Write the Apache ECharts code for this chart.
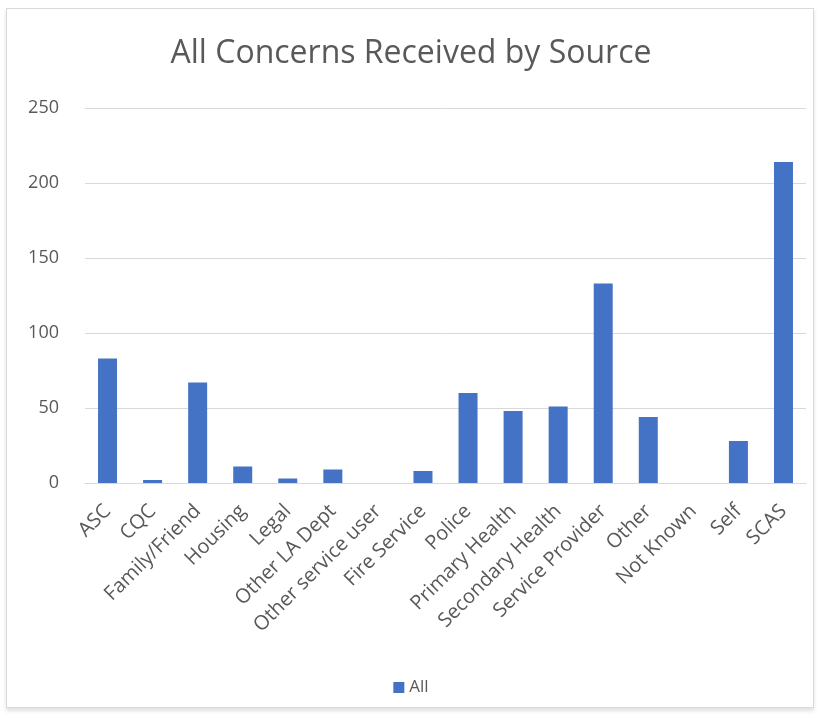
<!DOCTYPE html>
<html>
<head>
<meta charset="utf-8">
<script src="https://cdn.jsdelivr.net/npm/echarts@6/dist/echarts.min.js"></script>
<style>
  html, body { margin: 0; padding: 0; background: #ffffff; }
  #frame {
    position: absolute; left: 6px; top: 8px; width: 808px; height: 700px;
    border: 1px solid #d9d9d9; box-sizing: border-box;
    box-shadow: 0 3px 4px rgba(0,0,0,0.12);
  }
  #chart { position: absolute; left: 0; top: 0; width: 822px; height: 718px; }
</style>
</head>
<body>
<div id="frame"></div>
<div id="chart"></div>
<script>
// Concern sources and counts
const sources = ['ASC', 'CQC', 'Family/Friend', 'Housing', 'Legal', 'Other LA Dept',
  'Other service user', 'Fire Service', 'Police', 'Primary Health', 'Secondary Health',
  'Service Provider', 'Other', 'Not Known', 'Self', 'SCAS'];
const allCounts = [83, 2, 67, 11, 3, 9, 0, 8, 60, 48, 51, 133, 44, 0, 28, 214];
const yTicks = { min: 0, max: 250, interval: 50 };

const textColor = '#595959';
const font = 'Open Sans, Noto Sans, sans-serif';

const chart = echarts.init(document.getElementById('chart'));
chart.setOption({
  animation: false,
  title: {
    text: 'All Concerns Received by Source',
    left: 'center',
    top: 33,
    textStyle: { color: textColor, fontFamily: font, fontWeight: 'normal', fontSize: 32 }
  },
  legend: {
    top: 674,
    left: 'center',
    icon: 'rect',
    itemWidth: 11,
    itemHeight: 11,
    itemGap: 6,
    textStyle: { color: textColor, fontFamily: font, fontSize: 17 },
    data: ['All']
  },
  grid: { left: 85, right: 16, top: 108, bottom: 235 },
  xAxis: {
    type: 'category',
    data: sources,
    axisLine: { lineStyle: { color: '#d9d9d9' } },
    axisTick: { show: false },
    axisLabel: {
      rotate: 45, interval: 0, color: textColor, fontFamily: font, fontSize: 20, margin: 25
    }
  },
  yAxis: {
    type: 'value',
    min: yTicks.min,
    max: yTicks.max,
    interval: yTicks.interval,
    axisLine: { show: false },
    axisTick: { show: false },
    splitLine: { lineStyle: { color: '#d9d9d9' } },
    axisLabel: { color: textColor, fontFamily: font, fontSize: 18, margin: 26 }
  },
  series: [{
    name: 'All',
    type: 'bar',
    data: allCounts,
    barWidth: 19,
    itemStyle: { color: '#4472c4' }
  }]
});
</script>
</body>
</html>
